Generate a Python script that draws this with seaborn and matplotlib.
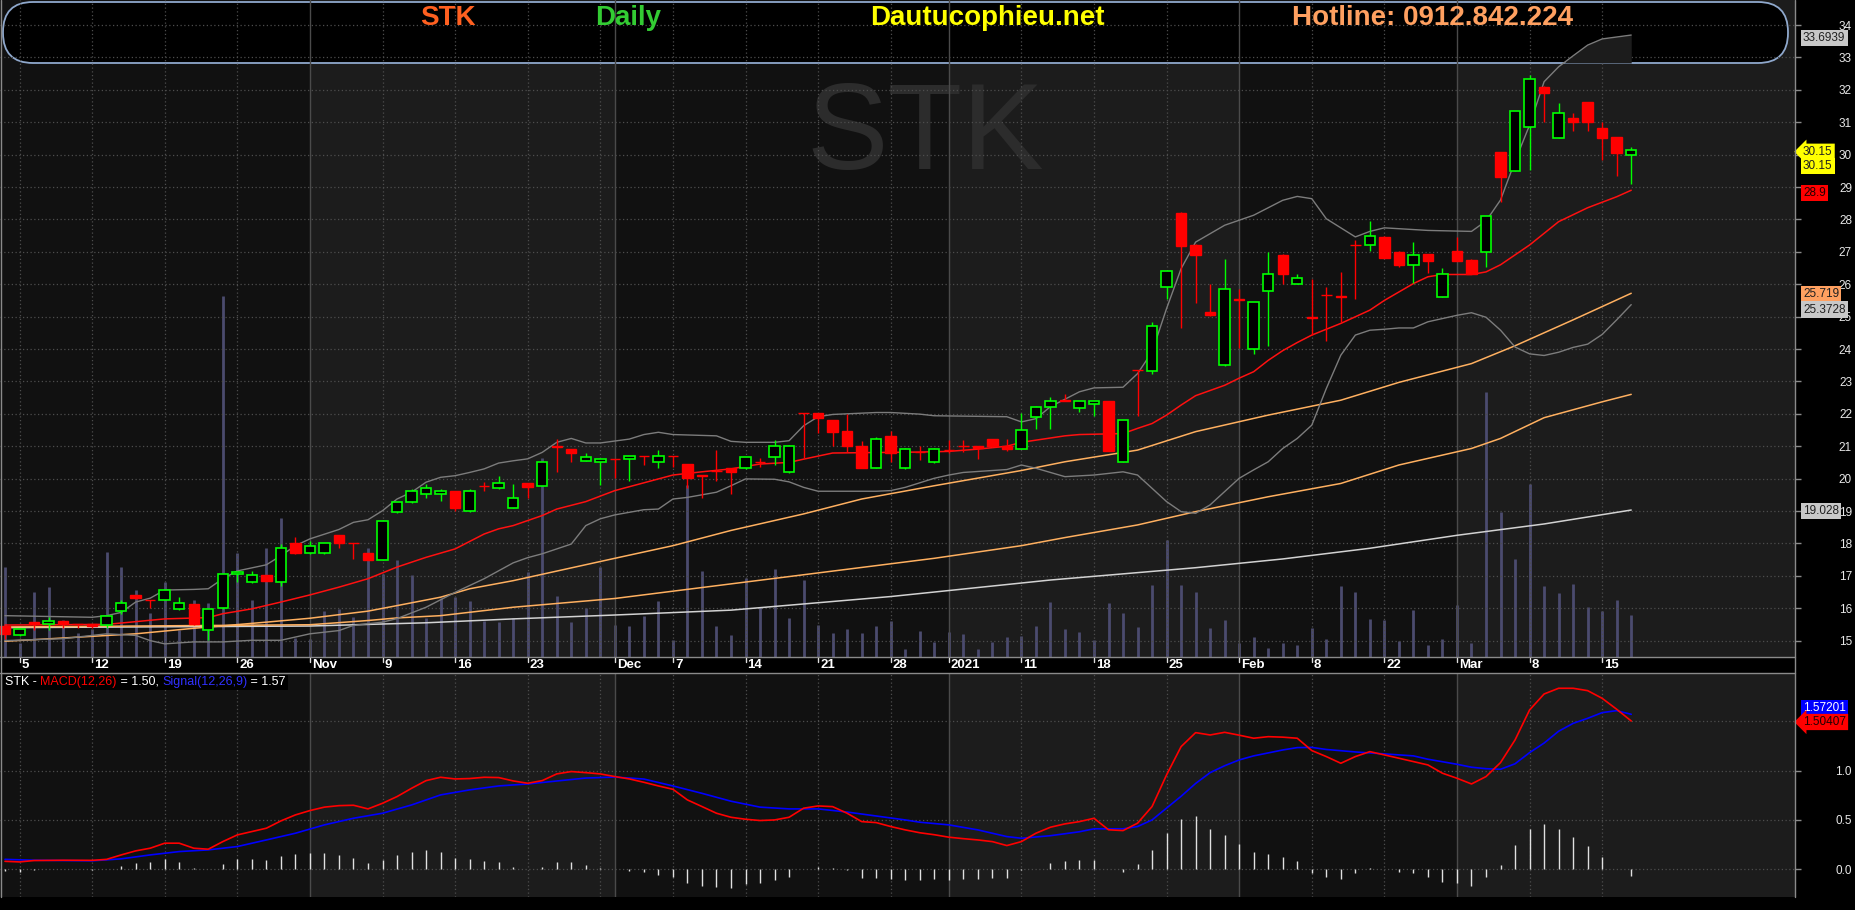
import numpy as np
import pandas as pd
import matplotlib
matplotlib.use('Agg')
import matplotlib.pyplot as plt
import matplotlib.transforms as mtrans
from matplotlib.patches import FancyBboxPatch, Rectangle
import seaborn as sns

## ===================================================================== ##
## data (STK daily, 2 Oct 2020 - 17 Mar 2021)

opens = [15.44, 15.17, 15.57, 15.51, 15.61, 15.52, 15.51, 15.47, 15.90, 16.40,
         16.25, 16.25, 15.97, 16.12, 15.32, 16.00, 17.05, 16.80, 17.03, 16.80,
         18.02, 17.69, 17.69, 18.25, 18.01, 17.70, 17.50, 18.96, 19.27, 19.52,
         19.52, 19.61, 18.99, 19.78, 19.70, 19.10, 19.86, 19.78, 21.01, 20.90,
         20.55, 20.50, 20.61, 20.60, 20.70, 20.50, 20.70, 20.44, 20.10, 20.24,
         20.32, 20.32, 20.51, 20.66, 20.19, 22.02, 22.01, 21.81, 21.46, 21.00,
         20.34, 21.30, 20.32, 20.82, 20.50, 20.89, 21.01, 21.00, 21.22, 21.01,
         20.91, 21.91, 22.22, 22.41, 22.17, 22.31, 22.40, 20.52, 23.35, 23.33,
         25.92, 28.21, 27.22, 25.13, 23.50, 25.53, 24.00, 25.79, 26.91, 26.01,
         24.98, 25.68, 25.62, 27.22, 27.21, 27.47, 27.00, 26.59, 26.92, 25.62,
         27.02, 26.74, 27.00, 30.07, 29.50, 30.85, 32.10, 30.52, 31.12, 31.61,
         30.81, 30.53, 29.99]
highs = [15.44, 15.36, 15.57, 15.74, 15.61, 15.52, 15.52, 15.76, 16.24, 16.40,
         16.25, 16.57, 16.35, 16.13, 15.98, 17.06, 17.12, 17.15, 17.03, 17.98,
         18.19, 18.07, 18.01, 18.26, 18.02, 17.71, 18.71, 19.28, 19.68, 19.82,
         19.68, 19.62, 19.68, 19.91, 20.07, 19.83, 19.86, 20.51, 21.22, 20.91,
         20.79, 20.63, 20.61, 20.70, 20.70, 20.87, 20.70, 20.45, 20.10, 20.87,
         20.33, 20.67, 20.63, 21.19, 21.05, 22.02, 22.02, 21.81, 21.99, 21.17,
         21.28, 21.46, 20.96, 21.00, 20.96, 21.19, 21.19, 21.01, 21.23, 21.21,
         22.01, 22.23, 22.51, 22.60, 22.41, 22.41, 22.41, 21.82, 23.35, 24.84,
         26.42, 28.22, 27.23, 26.00, 26.79, 25.84, 25.46, 26.98, 26.92, 26.30,
         26.17, 25.91, 26.39, 27.35, 27.94, 27.48, 27.01, 27.29, 26.93, 26.49,
         27.47, 26.78, 28.12, 30.08, 31.36, 32.45, 32.11, 31.58, 31.27, 31.62,
         31.01, 30.54, 30.22]
lows = [15.06, 15.15, 15.34, 15.34, 15.38, 15.38, 15.38, 15.38, 15.83, 16.28,
        16.01, 16.24, 15.96, 15.49, 15.02, 15.99, 16.82, 16.79, 16.84, 16.67,
        17.68, 17.68, 17.68, 17.87, 17.53, 17.49, 17.49, 18.95, 19.26, 19.39,
        19.32, 19.01, 18.98, 19.63, 19.69, 19.09, 19.41, 19.77, 20.21, 20.52,
        20.54, 19.81, 20.02, 19.94, 20.43, 20.34, 20.37, 19.71, 19.40, 19.94,
        19.54, 20.31, 20.35, 20.42, 20.18, 20.64, 21.41, 21.02, 20.83, 20.33,
        20.33, 20.52, 20.31, 20.58, 20.49, 20.79, 20.83, 20.61, 20.99, 20.85,
        20.90, 21.53, 21.53, 22.39, 22.06, 21.94, 20.84, 20.51, 21.94, 23.24,
        25.54, 24.65, 25.43, 25.03, 23.49, 24.04, 23.84, 24.10, 26.02, 26.00,
        24.43, 24.25, 24.83, 25.55, 27.03, 26.80, 26.53, 26.03, 26.34, 25.61,
        26.71, 26.30, 26.52, 28.54, 29.49, 29.52, 31.01, 30.51, 30.73, 30.73,
        29.82, 29.34, 29.09]
closes = [15.21, 15.35, 15.50, 15.60, 15.50, 15.50, 15.44, 15.75, 16.15, 16.30,
          16.24, 16.56, 16.16, 15.50, 15.97, 17.05, 17.11, 17.02, 16.85, 17.85,
          17.69, 17.91, 18.00, 18.00, 18.00, 17.50, 18.70, 19.27, 19.61, 19.70,
          19.61, 19.10, 19.61, 19.77, 19.86, 19.39, 19.75, 20.50, 20.99, 20.80,
          20.68, 20.60, 20.60, 20.69, 20.69, 20.69, 20.69, 20.01, 20.09, 20.23,
          20.19, 20.66, 20.50, 21.00, 21.00, 22.01, 21.88, 21.45, 21.00, 20.34,
          21.21, 20.79, 20.90, 20.81, 20.90, 20.88, 21.00, 20.94, 21.00, 20.91,
          21.51, 22.22, 22.40, 22.40, 22.40, 22.40, 20.85, 21.81, 23.34, 24.71,
          26.41, 27.18, 26.89, 25.04, 25.84, 25.52, 25.45, 26.32, 26.31, 26.19,
          24.97, 25.67, 25.61, 27.21, 27.50, 26.81, 26.59, 26.91, 26.72, 26.33,
          26.72, 26.31, 28.11, 29.31, 31.35, 32.34, 31.90, 31.29, 31.01, 31.01,
          30.52, 30.04, 30.15]
volume = [900, 140, 650, 700, 370, 240, 280, 1050, 900, 670,
          440, 750, 270, 570, 540, 3610, 1040, 570, 1090, 1390,
          190, 180, 460, 480, 400, 1090, 830, 970, 820, 390,
          590, 600, 560, 360, 350, 390, 850, 1990, 610, 350,
          490, 900, 320, 310, 410, 560, 170, 1720, 860, 310,
          220, 790, 500, 880, 390, 770, 320, 240, 280, 240,
          310, 360, 80, 260, 150, 250, 230, 80, 150, 200,
          210, 310, 550, 280, 250, 170, 540, 440, 300, 720,
          1170, 720, 650, 290, 370, 140, 200, 90, 140, 120,
          290, 180, 710, 650, 380, 370, 160, 470, 120, 180,
          520, 140, 2650, 1450, 980, 1730, 710, 640, 730, 500,
          460, 570, 420]

# indicator lines, read at the sessions listed in the *_idx arrays
ma20_idx = [0, 7, 11, 14, 15, 17, 19, 21, 23, 25, 27, 29, 31, 33, 34, 35, 37, 38, 40, 42,
            44, 46, 48, 50, 52, 54, 55, 57, 59, 61, 63, 65, 67, 69, 70, 73, 74, 76, 77, 78,
            79, 80, 81, 82, 84, 85, 86, 87, 88, 89, 90, 92, 94, 95, 97, 98, 99, 101, 102, 103,
            105, 107, 109, 111, 112]
ma20 = [15.48, 15.50, 15.67, 15.71, 15.83, 15.98, 16.19, 16.41, 16.65, 16.91, 17.27, 17.57, 17.83, 18.29, 18.45, 18.55, 18.86, 19.06, 19.29, 19.63,
        19.87, 20.11, 20.21, 20.30, 20.45, 20.50, 20.60, 20.79, 20.80, 20.81, 20.82, 20.84, 20.91, 21.00, 21.12, 21.32, 21.36, 21.38, 21.39, 21.55,
        21.70, 21.96, 22.27, 22.56, 22.88, 23.10, 23.30, 23.65, 23.95, 24.20, 24.43, 24.79, 25.20, 25.50, 26.02, 26.23, 26.30, 26.30, 26.38, 26.60,
        27.21, 27.93, 28.36, 28.70, 28.90]
bb_up_idx = [0, 6, 7, 8, 9, 10, 11, 13, 14, 15, 16, 18, 19, 20, 21, 23, 24, 25, 26, 27,
             28, 29, 30, 31, 32, 33, 34, 35, 36, 37, 38, 39, 40, 41, 43, 44, 45, 46, 49, 50,
             51, 53, 54, 55, 56, 57, 60, 61, 63, 64, 69, 70, 71, 72, 74, 75, 77, 78, 79, 80,
             81, 82, 84, 86, 88, 89, 90, 91, 93, 94, 95, 98, 101, 102, 103, 104, 105, 106, 107, 108,
             109, 110, 111, 112]
bb_up = [15.77, 15.72, 15.77, 15.87, 16.19, 16.31, 16.56, 16.58, 16.60, 16.91, 17.15, 17.34, 17.62, 17.93, 18.14, 18.43, 18.65, 18.73, 19.01, 19.37,
         19.58, 19.89, 20.04, 20.09, 20.19, 20.30, 20.48, 20.55, 20.61, 20.81, 21.12, 21.24, 21.10, 21.10, 21.22, 21.36, 21.43, 21.36, 21.32, 21.15,
         21.12, 21.12, 21.17, 21.63, 21.91, 21.98, 22.04, 22.04, 21.99, 21.94, 21.91, 21.75, 21.85, 22.22, 22.68, 22.80, 22.82, 23.24, 23.91, 25.25,
         26.48, 27.30, 27.82, 28.13, 28.59, 28.71, 28.64, 28.02, 27.46, 27.63, 27.74, 27.66, 27.63, 27.95, 28.60, 29.80, 30.91, 32.25, 32.71, 33.05,
         33.38, 33.57, 33.63, 33.69]
bb_lo_idx = [0, 4, 7, 9, 10, 11, 13, 15, 17, 19, 21, 23, 24, 26, 27, 29, 31, 33, 35, 36,
             37, 39, 40, 41, 42, 43, 44, 45, 46, 47, 49, 50, 51, 53, 54, 55, 56, 60, 61, 62,
             64, 65, 66, 69, 70, 71, 73, 75, 77, 78, 79, 80, 81, 82, 83, 84, 85, 86, 87, 88,
             89, 90, 91, 92, 93, 94, 95, 96, 97, 98, 99, 100, 101, 102, 103, 104, 105, 106, 107, 108,
             109, 110, 111, 112]
bb_lo = [15.00, 15.06, 15.21, 15.16, 15.00, 14.90, 14.96, 14.96, 15.01, 15.01, 15.21, 15.31, 15.47, 15.57, 15.68, 16.03, 16.49, 16.91, 17.40, 17.56,
         17.68, 17.98, 18.55, 18.76, 18.88, 18.96, 19.04, 19.06, 19.37, 19.42, 19.58, 19.78, 19.99, 19.98, 19.90, 19.73, 19.61, 19.61, 19.63, 19.73,
         20.01, 20.11, 20.19, 20.28, 20.42, 20.32, 20.06, 20.11, 20.21, 20.11, 19.70, 19.29, 18.98, 18.93, 19.19, 19.60, 20.01, 20.27, 20.52, 20.93,
         21.24, 21.65, 22.78, 23.81, 24.43, 24.58, 24.61, 24.65, 24.65, 24.84, 24.94, 25.04, 25.12, 24.98, 24.58, 24.06, 23.85, 23.80, 23.90, 24.05,
         24.15, 24.45, 24.90, 25.37]
ma50_idx = [0, 4, 9, 13, 18, 21, 25, 27, 30, 32, 35, 42, 46, 50, 55, 59, 64, 70, 73, 78,
            82, 87, 92, 96, 101, 104, 108, 112]
ma50 = [14.98, 15.08, 15.21, 15.38, 15.57, 15.69, 15.91, 16.08, 16.34, 16.60, 16.85, 17.54, 17.93, 18.40, 18.91, 19.37, 19.78, 20.25, 20.52, 20.88,
        21.45, 21.96, 22.42, 22.97, 23.55, 24.10, 24.90, 25.72]
ma100_idx = [0, 21, 25, 27, 30, 35, 42, 64, 70, 73, 78, 82, 87, 92, 96, 101, 103, 106, 110, 112]
ma100 = [15.42, 15.49, 15.62, 15.70, 15.77, 16.03, 16.30, 17.54, 17.93, 18.18, 18.57, 18.98, 19.44, 19.85, 20.42, 20.93, 21.24, 21.88, 22.37, 22.60]
ma200_idx = [0, 21, 29, 35, 42, 50, 61, 72, 82, 88, 94, 100, 106, 112]
ma200 = [15.40, 15.45, 15.55, 15.67, 15.79, 15.94, 16.36, 16.87, 17.25, 17.52, 17.85, 18.25, 18.60, 19.03]

macd_idx = [0, 1, 2, 4, 6, 7, 8, 9, 10, 11, 12, 13, 14, 15, 16, 17, 18, 19, 20, 21,
            22, 23, 24, 25, 26, 27, 28, 29, 30, 31, 32, 33, 34, 35, 36, 37, 38, 39, 40, 41,
            42, 43, 44, 45, 46, 47, 48, 49, 50, 51, 52, 53, 54, 55, 56, 57, 58, 59, 60, 61,
            62, 63, 64, 65, 66, 67, 68, 69, 70, 71, 72, 73, 74, 75, 76, 77, 78, 79, 80, 81,
            82, 83, 84, 85, 86, 87, 88, 89, 90, 91, 92, 93, 94, 95, 96, 97, 98, 99, 100, 101,
            102, 103, 104, 105, 106, 107, 108, 109, 110, 111, 112]
macd = [0.080, 0.074, 0.088, 0.091, 0.090, 0.100, 0.145, 0.186, 0.213, 0.264, 0.264, 0.213, 0.203, 0.280, 0.348, 0.382, 0.416, 0.490, 0.551, 0.595,
        0.630, 0.645, 0.649, 0.612, 0.669, 0.737, 0.821, 0.899, 0.933, 0.916, 0.920, 0.933, 0.930, 0.896, 0.872, 0.899, 0.967, 0.991, 0.980, 0.967,
        0.940, 0.916, 0.882, 0.845, 0.811, 0.703, 0.636, 0.568, 0.527, 0.507, 0.494, 0.500, 0.527, 0.619, 0.642, 0.635, 0.568, 0.483, 0.473, 0.433,
        0.399, 0.370, 0.350, 0.325, 0.310, 0.297, 0.280, 0.240, 0.280, 0.365, 0.426, 0.460, 0.483, 0.517, 0.400, 0.392, 0.467, 0.636, 0.957, 1.244,
        1.386, 1.362, 1.389, 1.360, 1.329, 1.345, 1.340, 1.329, 1.204, 1.143, 1.075, 1.143, 1.193, 1.160, 1.126, 1.092, 1.058, 0.974, 0.923, 0.865,
        0.940, 1.082, 1.312, 1.616, 1.778, 1.836, 1.836, 1.812, 1.734, 1.623, 1.504]
signal_idx = [0, 2, 6, 8, 10, 12, 14, 16, 18, 20, 22, 24, 26, 28, 30, 32, 34, 36, 38, 40,
              42, 44, 46, 48, 50, 52, 54, 56, 58, 60, 62, 63, 65, 67, 69, 70, 72, 74, 75, 77,
              78, 79, 80, 81, 82, 83, 84, 85, 86, 87, 88, 89, 90, 91, 93, 95, 97, 98, 100, 101,
              102, 103, 104, 105, 106, 107, 108, 109, 110, 111, 112]
signal = [0.100, 0.091, 0.085, 0.105, 0.145, 0.179, 0.196, 0.230, 0.297, 0.365, 0.450, 0.517, 0.568, 0.652, 0.754, 0.805, 0.845, 0.865, 0.895, 0.925,
          0.935, 0.915, 0.845, 0.770, 0.690, 0.630, 0.612, 0.612, 0.580, 0.540, 0.500, 0.477, 0.450, 0.399, 0.331, 0.314, 0.340, 0.380, 0.410, 0.410,
          0.433, 0.500, 0.620, 0.740, 0.870, 0.980, 1.050, 1.109, 1.150, 1.180, 1.210, 1.234, 1.236, 1.215, 1.190, 1.170, 1.150, 1.116, 1.065, 1.035,
          1.020, 1.014, 1.070, 1.183, 1.280, 1.400, 1.480, 1.531, 1.589, 1.609, 1.572]
hist = [-0.020, -0.024, -0.013, 0.000, 0.000, 0.000, -0.013, 0.000, 0.037, 0.068,
        0.078, 0.100, 0.074, 0.014, 0.000, 0.054, 0.101, 0.108, 0.095, 0.135,
        0.152, 0.162, 0.162, 0.145, 0.118, 0.068, 0.095, 0.145, 0.179, 0.196,
        0.179, 0.118, 0.105, 0.085, 0.078, 0.027, 0.003, 0.027, 0.071, 0.071,
        0.047, 0.017, 0.000, -0.017, -0.030, -0.057, -0.074, -0.135, -0.166, -0.183,
        -0.186, -0.149, -0.142, -0.108, -0.074, 0.000, 0.020, 0.010, -0.007, -0.091,
        -0.091, -0.101, -0.108, -0.108, -0.101, -0.108, -0.101, -0.098, -0.088, -0.091,
        -0.007, 0.003, 0.068, 0.085, 0.095, 0.095, 0.000, -0.024, 0.054, 0.196,
        0.372, 0.507, 0.541, 0.409, 0.348, 0.257, 0.172, 0.155, 0.128, 0.085,
        -0.034, -0.074, -0.101, -0.034, 0.010, 0.000, -0.030, -0.041, -0.074, -0.125,
        -0.135, -0.166, -0.074, 0.044, 0.247, 0.406, 0.460, 0.406, 0.331, 0.237,
        0.128, 0.003, -0.064]

# x axis: session index of each week / month label
tick_idx = [1, 6, 11, 16, 21, 26, 31, 36, 42, 46, 51, 56, 61, 65, 70, 75, 80, 85, 90, 95, 100, 105, 110]
tick_lbl = ['5', '12', '19', '26', 'Nov', '9', '16', '23', 'Dec', '7', '14', '21', '28', '2021',
            '11', '18', '25', 'Feb', '8', '22', 'Mar', '8', '15']
month_idx = [21, 42, 65, 85, 100]
extra_grid_idx = [41]

## ===================================================================== ##

sns.set_theme(style='dark', rc={'axes.facecolor': '#111111', 'figure.facecolor': 'black'})
plt.rcParams['font.family'] = ['Liberation Sans', 'DejaVu Sans']
NARROW = ['Liberation Sans Narrow', 'Liberation Sans', 'DejaVu Sans']

W, H = 1855, 910
fig = plt.figure(figsize=(W / 100, H / 100), dpi=100, facecolor='black')


def fx(px):
    return px / W


def fy(py):
    return 1 - py / H


DARK, LIGHT = '#111111', '#1c1c1c'
GRIDC = '#4d4d4d'
xi = np.arange(len(closes))
XL = (-0.344, 123.28)
PL = (14.494, 34.772)
ML = (-0.282, 1.991)

ax_v = fig.add_axes([0, fy(657), fx(1795), 657 / H])
ax = ax_v.twinx()
ax.set_zorder(ax_v.get_zorder() + 1)
ax.patch.set_visible(False)
ax_m = fig.add_axes([0, fy(897), fx(1795), 224 / H])

# month shading
bounds = [XL[0]] + month_idx + [XL[1]]
for a in (ax_v, ax_m):
    a.set_facecolor(DARK)
    for k in range(len(bounds) - 1):
        a.axvspan(bounds[k], bounds[k + 1], color=DARK if k % 2 == 0 else LIGHT, lw=0, zorder=0)

# watermark + header banner (pixel coordinates)
pix = mtrans.IdentityTransform()
ax_v.text(925, H - 137, 'STK', transform=pix, fontsize=88, color='#2c2c2c', family=NARROW,
          ha='center', va='center', zorder=1, clip_on=False)
ax_v.vlines(xi, 0, volume, color='#4b4b6e', lw=2.0, zorder=2)
ax_v.add_patch(FancyBboxPatch((3, H - 63), 1785, 61, boxstyle='round,pad=0,rounding_size=30',
                              transform=pix, fc='black', ec='#8fa8cc', lw=1.3, zorder=5, clip_on=False))
ax_v.set_ylim(0, 6570)
ax_v.set_xlim(*XL)
ax_v.set_yticks([])
ax_v.set_xticks([])

# grid
for a, lim in ((ax, PL), (ax_m, ML)):
    for i in tick_idx + extra_grid_idx:
        if i in month_idx:
            a.axvline(i, color='#4a4a4a', lw=1.0, zorder=1)
        else:
            a.axvline(i, color=GRIDC, lw=0.9, ls=(0, (1, 2)), zorder=1)
for v in range(15, 35):
    ax.axhline(v, color=GRIDC, lw=0.9, ls=(0, (1, 2)), zorder=1)
for v in (0.0, 0.5, 1.0, 1.5):
    ax_m.axhline(v, color=GRIDC, lw=0.9, ls=(0, (1, 2)), zorder=1)


def line(a, idx, vals, color, lw=1.0, z=3):
    sns.lineplot(x=idx, y=vals, ax=a, color=color, linewidth=lw, estimator=None,
                 sort=False, legend=False, zorder=z)


# wedge of chart background showing above the banner
up_i = np.array(bb_up_idx)
up_v = np.array(bb_up)
sel = up_i >= 104
ax.fill_between(up_i[sel], 32.83, up_v[sel], where=up_v[sel] > 32.83, interpolate=True,
                color=LIGHT, lw=0, zorder=1.5)

line(ax, ma200_idx, ma200, '#d2d2d2', 1.1)
line(ax, ma100_idx, ma100, '#ffb060', 1.1)
line(ax, ma50_idx, ma50, '#ffb060', 1.1)
line(ax, bb_up_idx, bb_up, '#7c7c7c', 1.0)
line(ax, bb_lo_idx, bb_lo, '#7c7c7c', 1.0)
line(ax, ma20_idx, ma20, '#ff1010', 1.1)

# candles
o = np.array(opens)
c = np.array(closes)
up = c > o
col = np.where(up, '#00ff00', '#ff0000')
ax.vlines(xi, lows, highs, colors=col, lw=1.0, zorder=4)
body_lo = np.minimum(o, c)
body_h = np.maximum(np.abs(c - o), 0.012)
ax.bar(xi[up], body_h[up], bottom=body_lo[up], width=0.72, color='black',
       edgecolor='#00ff00', linewidth=1.2, zorder=5)
ax.bar(xi[~up], body_h[~up], bottom=body_lo[~up], width=0.72, color='#ff0000',
       edgecolor='#ff0000', linewidth=1.0, zorder=5)

ax.set_xlim(*XL)
ax.set_ylim(*PL)

# MACD panel
ax_m.vlines(xi, 0, hist, color='#e0e0e0', lw=1.0, zorder=2)
line(ax_m, signal_idx, signal, '#0000ff', 1.2)
line(ax_m, macd_idx, macd, '#ff0000', 1.2)
ax_m.set_xlim(*XL)
ax_m.set_ylim(*ML)

# axes dressing
for a, ticks, labels in ((ax, list(range(15, 35)), [str(v) for v in range(15, 35)]),
                         (ax_m, [0.0, 0.5, 1.0], ['0.0', '0.5', '1.0'])):
    a.set_xticks([])
    a.yaxis.tick_right()
    a.set_yticks(ticks)
    a.set_yticklabels(labels)
    a.tick_params(axis='y', which='both', right=True, left=False, length=4, width=1,
                  color='#8a8a8a', labelsize=8.5, labelcolor='#e8e8e8', pad=37)
    for t in a.get_yticklabels():
        t.set_horizontalalignment('right')
    a.set_xlabel('')
    a.set_ylabel('')
    for s in a.spines.values():
        s.set_visible(False)
for s in ax_v.spines.values():
    s.set_visible(False)

# frame lines
for (x0, y0, x1, y1) in ((1, 0, 1, 897), (1795, 0, 1795, 897), (0, 657, 1795, 657), (0, 673, 1795, 673)):
    fig.add_artist(plt.Line2D([fx(x0), fx(x1)], [fy(y0), fy(y1)], color='#8a8a8a', lw=1.0))

# date strip
for i, lbl in zip(tick_idx, tick_lbl):
    xpx = (i - XL[0]) / (XL[1] - XL[0]) * 1795
    fig.add_artist(plt.Line2D([fx(xpx), fx(xpx)], [fy(658), fy(662)], color='#dddddd', lw=1.0))
    fig.text(fx(xpx + 2), fy(665.5), lbl, color='white', fontsize=9.5, fontweight='bold',
             family=NARROW, ha='left', va='center')

# header texts
for txt, xc, colr in (('STK', 448, '#ff6020'), ('Daily', 628, '#33cc33'),
                      ('Dautucophieu.net', 987, '#ffff00'), ('Hotline: 0912.842.224', 1433, '#ffa060')):
    fig.text(fx(xc), fy(18), txt, color=colr, fontsize=20, fontweight='bold', family=NARROW,
             ha='center', va='center', zorder=20)


# value boxes on the right axis
def vbox(a, value, text, fc, tc, dy=0, arrow=False, x0=1803):
    tr = mtrans.blended_transform_factory(a.transAxes, a.transData) + \
        mtrans.ScaledTranslation(0, -dy / 100, fig.dpi_scale_trans)
    style = 'larrow,pad=0.18' if arrow else 'square,pad=0.18'
    a.text(x0 / 1795, value, text, transform=tr, fontsize=8.5, color=tc, ha='left', va='center',
           bbox=dict(boxstyle=style, fc=fc, ec='none'), zorder=30, clip_on=False)


vbox(ax, bb_up[-1], '33.6939', '#c8c8c8', '#202020', dy=3)
vbox(ax, closes[-1], '30.15', '#ffff00', '#202020', dy=2, arrow=True)
vbox(ax, closes[-1], '30.15', '#ffff00', '#202020', dy=16)
vbox(ax, ma20[-1], '28.9', '#ff0000', '#200000', dy=3)
vbox(ax, ma50[-1], '25.719', '#ffa060', '#202020', dy=1)
vbox(ax, bb_lo[-1], '25.3728', '#c8c8c8', '#202020', dy=5)
vbox(ax, ma200[-1], '19.028', '#c8c8c8', '#202020', dy=1)
vbox(ax_m, signal[-1], '1.57201', '#0000ff', 'white', dy=-6)
vbox(ax_m, macd[-1], '1.50407', '#ff0000', '#200000', dy=1, arrow=True)

# MACD legend
parts = [('STK - ', 'white'), ('MACD(12,26)', '#ff0000'), (' = 1.50, ', 'white'),
         ('Signal(12,26,9)', '#3030ff'), (' = 1.57', 'white')]
r = fig.canvas.get_renderer()
xp = 5
for s, colr in parts:
    t = fig.text(fx(xp), fy(682), s, color=colr, fontsize=9, family=NARROW, ha='left',
                 va='center', zorder=25)
    xp += t.get_window_extent(renderer=r).width
fig.add_artist(Rectangle((fx(3), fy(690)), fx(xp - 1), 15 / H, transform=fig.transFigure,
                         fc='black', ec='none', zorder=24))

fig.savefig('out.png', dpi=100, facecolor='black')
